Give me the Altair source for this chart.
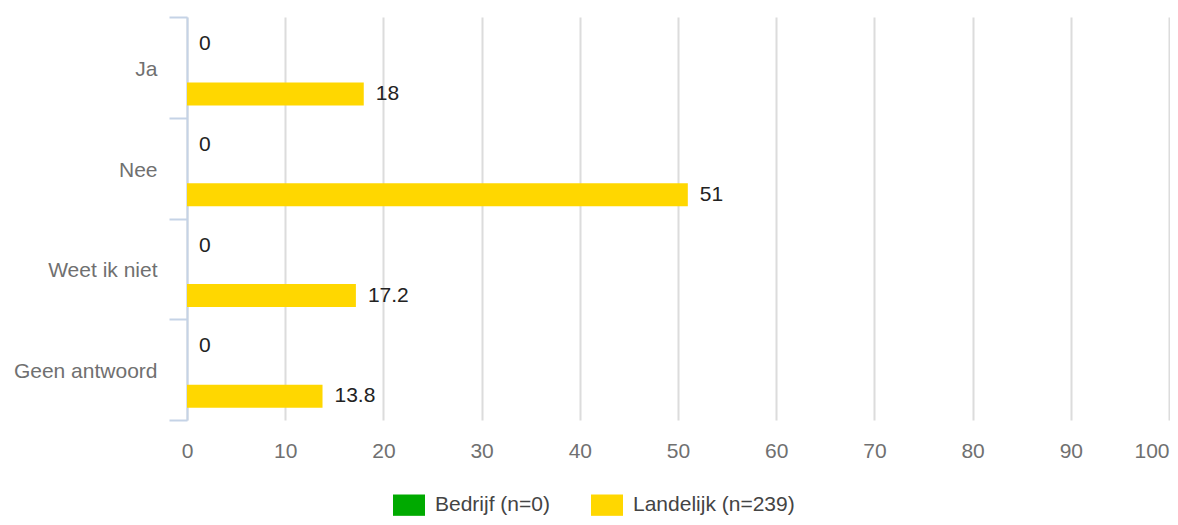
import altair as alt
import pandas as pd

categories = ["Ja", "Nee", "Weet ik niet", "Geen antwoord"]
series = ["Bedrijf (n=0)", "Landelijk (n=239)"]
bedrijf = [0, 0, 0, 0]
landelijk = [18, 51, 17.2, 13.8]
x_ticks = [0, 10, 20, 30, 40, 50, 60, 70, 80, 90, 100]
colors = ["#00aa00", "#ffd700"]

rows = []
for i, c in enumerate(categories):
    rows.append({"cat": c, "series": series[0], "value": bedrijf[i]})
    rows.append({"cat": c, "series": series[1], "value": landelijk[i]})
df = pd.DataFrame(rows)

FONT = "Liberation Sans"
FS = 21

y_enc = alt.Y(
    "cat:N",
    sort=categories,
    scale=alt.Scale(paddingInner=0, paddingOuter=0),
    axis=alt.Axis(
        title=None,
        tickBand="extent",
        tickSize=18,
        tickColor="#c5d3e6",
        tickWidth=2,
        domainColor="#c5d3e6",
        domainWidth=2,
        labelPadding=12,
        labelOffset=2,
        labelFont=FONT,
        labelFontSize=FS,
        labelColor="#707070",
        grid=False,
    ),
)
yoff = alt.YOffset(
    "series:N",
    sort=series,
    scale=alt.Scale(paddingInner=0.54, paddingOuter=0.2775, align=0.56),
)
x_enc = alt.X(
    "value:Q",
    scale=alt.Scale(domain=[0, 100], nice=False),
    axis=alt.Axis(
        title=None,
        values=x_ticks,
        domain=False,
        ticks=False,
        tickSize=0,
        grid=True,
        gridColor="#dcdcdc",
        gridWidth=2,
        labelPadding=20,
        labelFont=FONT,
        labelFontSize=FS,
        labelColor="#707070",
        labelAlign=alt.expr("datum.value >= 100 ? 'right' : 'center'"),
    ),
)

base = alt.Chart(df)

bars = base.mark_bar(size=23).encode(
    y=y_enc,
    yOffset=yoff,
    x=x_enc,
    color=alt.Color(
        "series:N",
        sort=series,
        scale=alt.Scale(domain=series, range=colors),
        legend=alt.Legend(
            title=None,
            orient="none",
            direction="horizontal",
            legendX=211,
            legendY=477,
            padding=0,
            symbolType="M-1.5,-1L1.5,-1L1.5,1L-1.5,1Z",
            symbolSize=455,
            symbolStrokeWidth=0,
            symbolOpacity=1,
            labelOffset=15,
            columnPadding=41,
            labelLimit=0,
            labelFont=FONT,
            labelFontSize=FS,
            labelColor="#444444",
        ),
    ),
)

labels = base.mark_text(
    align="left", baseline="middle", dx=12, font=FONT, fontSize=FS, color="#222222"
).encode(
    y=alt.Y("cat:N", sort=categories),
    yOffset=alt.YOffset("series:N", sort=series),
    x=alt.X("value:Q"),
    text=alt.Text("value:Q"),
)

chart = (
    alt.layer(bars, labels)
    .properties(
        width=982,
        height=403,
        autosize=alt.AutoSizeParams(type="none"),
        padding={"left": 179, "top": 9, "right": 1, "bottom": 97},
    )
    .configure_view(stroke=None)
)

chart.save("out.html", embed_options={"renderer": "svg", "actions": False})
